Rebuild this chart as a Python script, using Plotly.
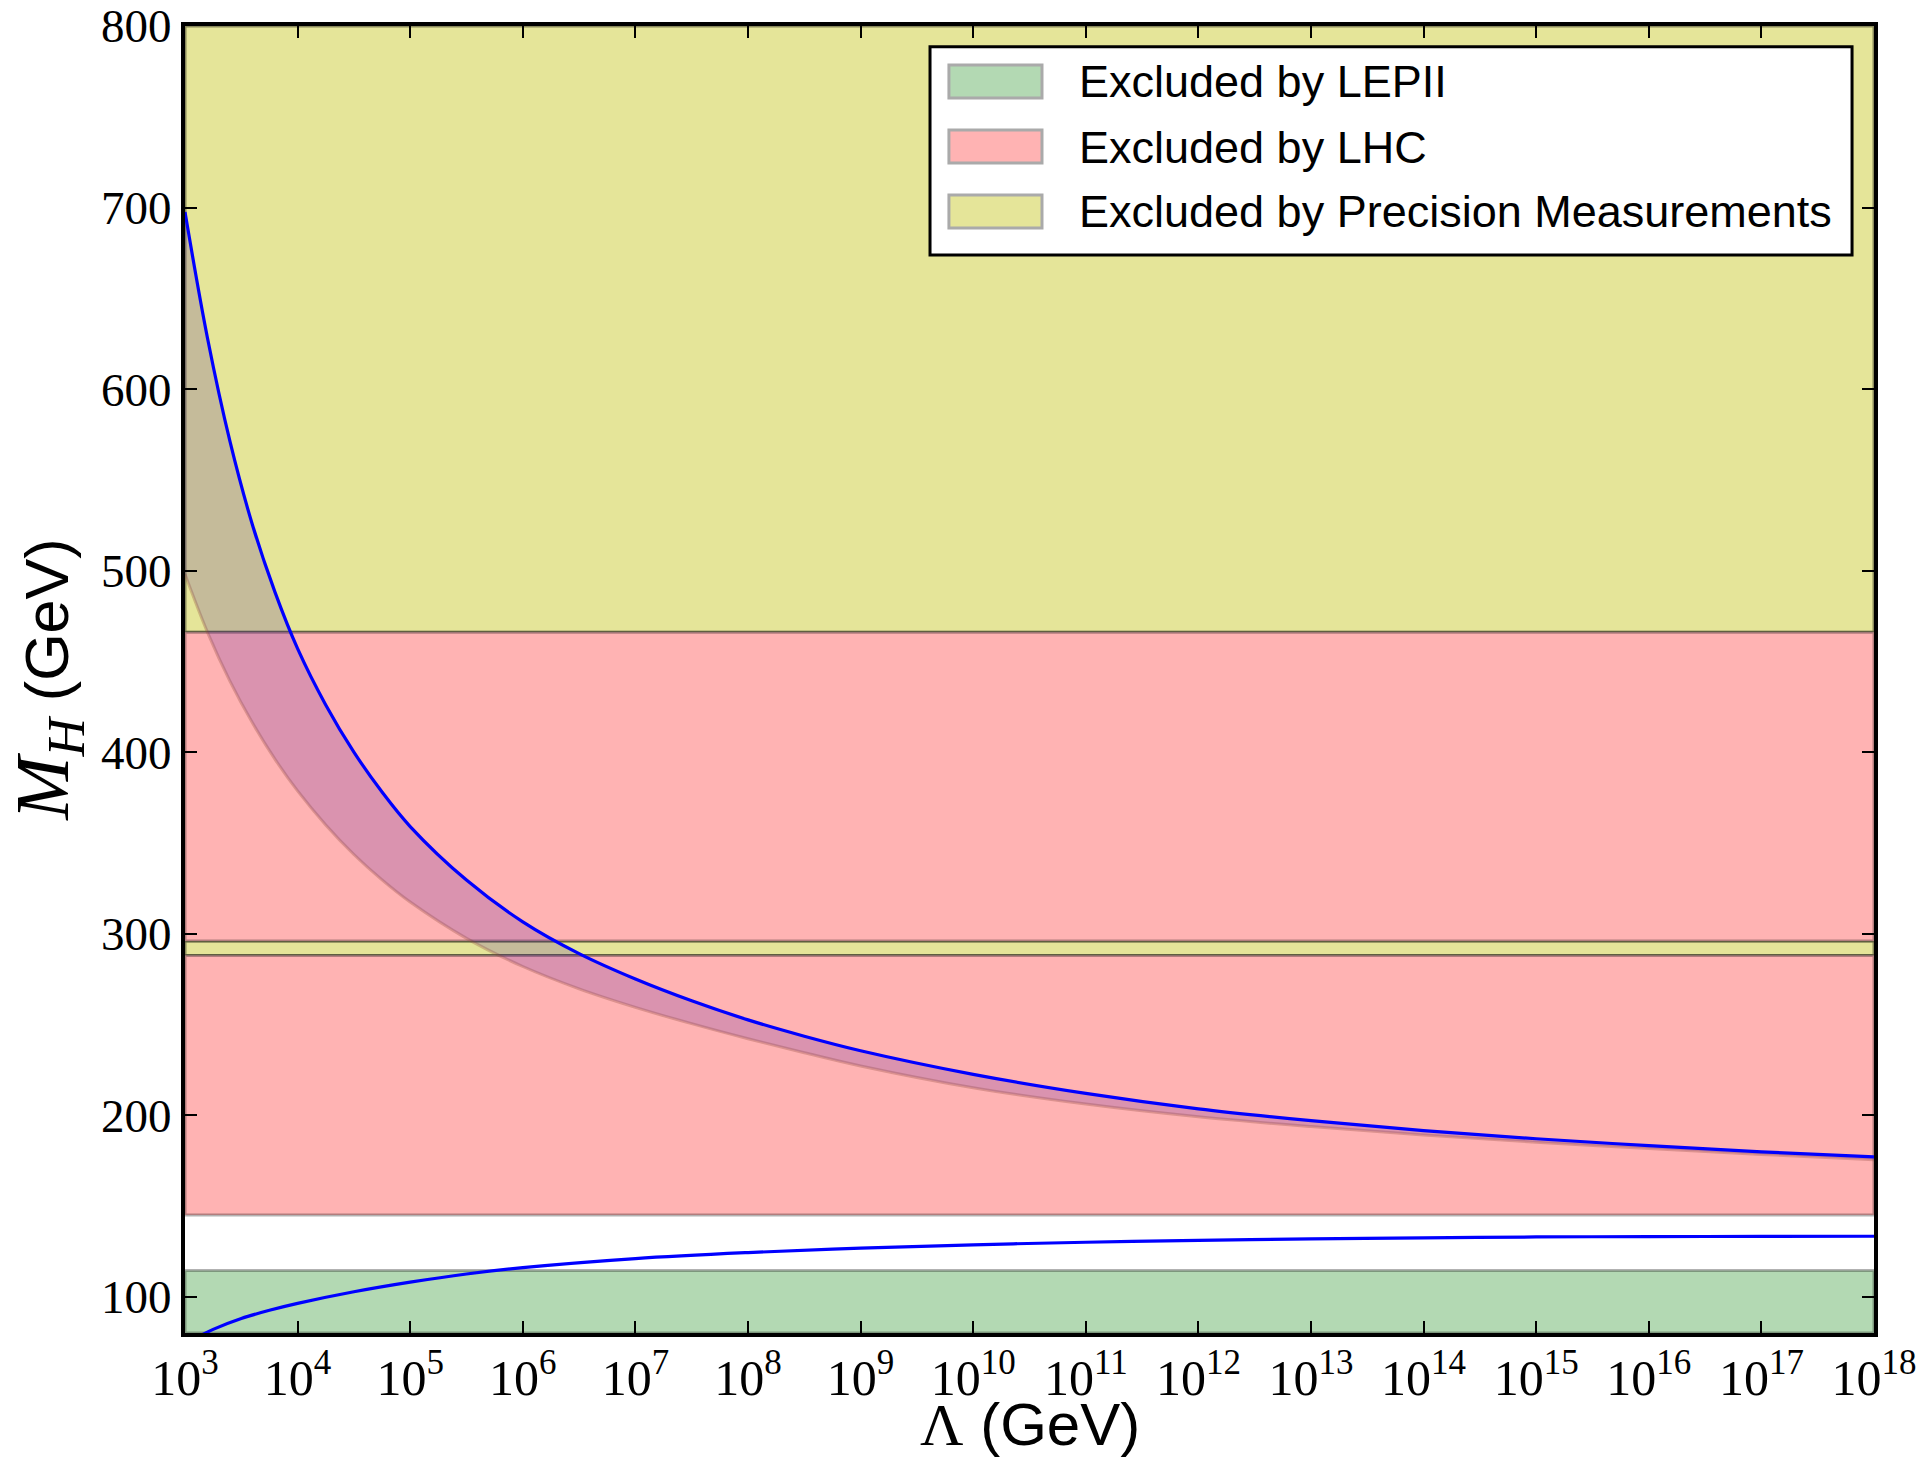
import plotly.graph_objects as go

# ---------------- data ----------------
# x axis: Lambda (GeV), given as log10 exponents; y axis: M_H (GeV)
x_range_exp = [3, 18]
y_range = [80, 800]

# upper (triviality) blue curve
upper_logL = [3.0, 3.2, 3.4, 3.6, 3.8, 4.0, 4.25, 4.5, 4.75, 5.0, 5.5, 6.0, 6.5, 7.0,
              7.5, 8.0, 8.5, 9.0, 10.0, 11.0, 12.0, 13.0, 14.0, 15.0, 16.0, 17.0, 18.0]
upper_MH = [697.5, 628, 571, 525, 488, 457, 426, 400, 378, 359, 329.5, 306.5, 289, 275,
            263, 252.5, 243.5, 235.5, 222.5, 212, 203.5, 197, 191.5, 187, 183.2, 179.8, 177]

# lower edge of the shaded band under the upper curve
band_logL = [3.0, 3.2, 3.4, 3.6, 3.8, 4.0, 4.25, 4.5, 4.75, 5.0, 5.5, 6.0, 6.5, 7.0, 7.5,
             8.0, 8.5, 9.0, 10.0, 11.0, 12.0, 13.0, 14.0, 15.0, 16.0, 17.0, 18.0]
band_MH = [498, 466, 439, 416, 396, 378.6, 359.9, 343.6, 329.6, 317.4, 297.4, 281.9,
           269.6, 259.4, 250.4, 242.1, 234.4, 227.1, 215.1, 206.1, 199.1, 193.7, 189.1,
           185.1, 181.6, 178.4, 175.5]

# lower (vacuum stability) blue curve
lower_logL = [3.0, 3.25, 3.5, 3.75, 4.0, 4.5, 5.0, 5.5, 6.0, 7.0, 8.0, 9.0, 10.0, 11.0,
              12.0, 13.0, 14.0, 15.0, 16.0, 17.0, 18.0]
lower_MH = [74, 82, 88, 92.5, 96.3, 102.7, 108, 112.5, 116, 121, 124.3, 126.8, 128.6,
            130, 131, 131.8, 132.4, 132.9, 133.1, 133.2, 133.3]

# exclusion regions (M_H ranges in GeV)
lep_excl = [(80, 114.4)]
lhc_excl = [(145, 288), (296, 466)]
prec_excl = [(288, 296), (466, 800)]

legend_labels = ["Excluded by LEPII", "Excluded by LHC", "Excluded by Precision Measurements"]
y_ticks = [100, 200, 300, 400, 500, 600, 700, 800]

# ---------------- styles ----------------
GREEN = "rgb(179,217,179)"
RED = "rgb(255,179,179)"
YELLOW = "rgb(229,229,153)"
SERIF = "Liberation Serif"
SANS = "Liberation Sans"

xmin, xmax = 10 ** x_range_exp[0], 10 ** x_range_exp[1]

fig = go.Figure()


def add_band(lo, hi, fill, edge):
    fig.add_trace(go.Scatter(
        x=[xmin, xmax, xmax, xmin, xmin], y=[lo, lo, hi, hi, lo],
        mode="lines", fill="toself", fillcolor=fill,
        line=dict(color=edge, width=3), hoverinfo="skip", showlegend=False))


for lo, hi in prec_excl:
    add_band(lo, hi, YELLOW, "rgba(0,0,0,0.4)")
for lo, hi in lhc_excl:
    add_band(lo, hi, RED, "rgba(0,0,0,0.3)")
for lo, hi in lep_excl:
    add_band(lo, hi, GREEN, "rgba(0,0,0,0.3)")

# shaded band between lower edge and upper curve
fig.add_trace(go.Scatter(
    x=[10 ** e for e in band_logL], y=band_MH, mode="lines",
    line=dict(color="rgba(140,70,60,0.3)", width=3, shape="spline", smoothing=1.0),
    hoverinfo="skip", showlegend=False))
fig.add_trace(go.Scatter(
    x=[10 ** e for e in upper_logL], y=upper_MH, mode="lines", fill="tonexty",
    fillcolor="rgba(70,20,160,0.2)",
    line=dict(color="rgba(0,0,0,0)", width=0, shape="spline", smoothing=1.0),
    hoverinfo="skip", showlegend=False))

# blue curves
fig.add_trace(go.Scatter(
    x=[10 ** e for e in upper_logL], y=upper_MH, mode="lines",
    line=dict(color="rgb(0,0,255)", width=3.2, shape="spline", smoothing=1.0),
    showlegend=False))
fig.add_trace(go.Scatter(
    x=[10 ** e for e in lower_logL], y=lower_MH, mode="lines",
    line=dict(color="rgb(0,0,255)", width=3.2, shape="spline", smoothing=1.0),
    showlegend=False))

axis_common = dict(
    showline=True, linewidth=4, linecolor="black", mirror="ticks",
    ticks="inside", ticklen=12, tickwidth=2, tickcolor="black",
    showgrid=False, zeroline=False, automargin=False, ticklabeloverflow="allow",
)

fig.update_xaxes(type="log", range=x_range_exp, dtick=1, exponentformat="power",
                 tickfont=dict(family=SERIF, size=40, color="black"), **axis_common)
fig.update_yaxes(range=y_range, tickvals=y_ticks,
                 tickfont=dict(family=SERIF, size=47, color="black"), **axis_common)

# ---------------- manual legend (matplotlib style) ----------------
shapes = [dict(type="rect", xref="paper", yref="paper", x0=0.4411, x1=0.9870,
               y0=0.8248, y1=0.9842, fillcolor="white",
               line=dict(color="black", width=3), layer="above")]
sw_rows = [(0.9449, 0.9702), (0.8952, 0.9204), (0.8454, 0.8707)]
sw_cols = [GREEN, RED, YELLOW]
text_y = [0.9572, 0.9074, 0.8577]
annotations = []
for (y0, y1), col, ty, lab in zip(sw_rows, sw_cols, text_y, legend_labels):
    shapes.append(dict(type="rect", xref="paper", yref="paper", x0=0.4523, x1=0.5074,
                       y0=y0, y1=y1, fillcolor=col,
                       line=dict(color="rgb(170,170,170)", width=3), layer="above"))
    annotations.append(dict(xref="paper", yref="paper", x=0.528, y=ty, text=lab,
                            showarrow=False, xanchor="left", yanchor="middle",
                            font=dict(family=SANS, size=45, color="black")))

# axis titles
annotations.append(dict(
    xref="paper", yref="paper", x=0.5, y=-0.0700, showarrow=False,
    xanchor="center", yanchor="middle",
    text='<span style="font-family:\'Liberation Serif\'">Λ</span> (GeV)',
    font=dict(family=SANS, size=60, color="black")))
annotations.append(dict(
    xref="paper", yref="paper", x=-0.0815, y=0.5, showarrow=False,
    xanchor="center", yanchor="middle", textangle=-90,
    text='<span style="font-family:\'Liberation Serif\';font-size:76px"><i>M</i><sub><i>H</i></sub></span> (GeV)',
    font=dict(family=SANS, size=61, color="black")))

fig.update_layout(
    width=1922, height=1468,
    margin=dict(l=185, r=48, t=26, b=135),
    plot_bgcolor="white", paper_bgcolor="white",
    showlegend=False, shapes=shapes, annotations=annotations,
)

fig.write_html("out.html", config={"displayModeBar": False},
               post_script="document.body.style.margin='0';document.body.style.overflow='hidden';")
